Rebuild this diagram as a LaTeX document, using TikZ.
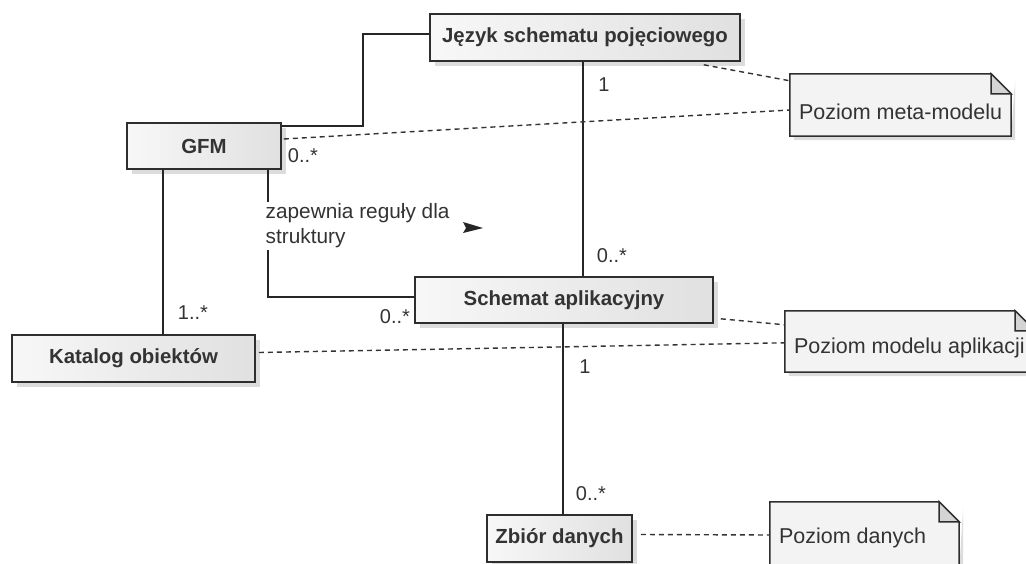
\documentclass[tikz,border=0pt]{standalone}
\usepackage{fontspec}
\setmainfont{Liberation Sans}
\usetikzlibrary{shadows,calc}
\definecolor{txt}{HTML}{333333}
\definecolor{edge}{HTML}{2E2E2E}
\definecolor{notefill}{HTML}{F3F3F3}
\definecolor{foldfill}{HTML}{D4D4D4}
\definecolor{shad}{HTML}{DCDCDC}
\newcommand\drawnote[1]{%
  \fill[shad] ($(#1.north east)+(4,5)$) -- ($(#1.south east)+(4,4)$) -- ($(#1.south west)+(4,4)$) -- ($(#1.south west)+(4,0)$) -- ($(#1.south east)+(0,0)$) -- cycle;
  \draw[noteline, fill=notefill] (#1.north west) -- ($(#1.north east)+(-20,0)$) -- ($(#1.north east)+(0,20)$) -- (#1.south east) -- (#1.south west) -- cycle;
  \draw[noteline, fill=foldfill] ($(#1.north east)+(-20,0)$) -- ($(#1.north east)+(-20,20)$) -- ($(#1.north east)+(0,20)$) -- cycle;
}
\begin{document}
\begin{tikzpicture}[x=1pt,y=-1pt,
  cls/.style={draw=edge, line width=1.6pt, left color=white!94!gray, right color=gray!24,
    minimum height=46pt, inner sep=0pt, text=txt,
    font=\fontsize{20.4}{23}\selectfont\bfseries,
    drop shadow={shadow xshift=5pt, shadow yshift=-5pt, fill=shad, opacity=1}},
  notebody/.style={draw=none, inner sep=0pt},
  noteline/.style={draw=edge, line width=1.5pt},
  notetext/.style={text=txt, font=\fontsize{21.5}{25}\selectfont, inner sep=0pt, anchor=west},
  conn/.style={draw=black!85, line width=1.6pt},
  dashln/.style={draw=black!80, line width=1.4pt, dash pattern=on 5pt off 4pt},
  mult/.style={text=txt, font=\fontsize{20}{24}\selectfont, inner sep=0pt}
]
\useasboundingbox (0,0) rectangle (1026,563);
\clip (0,0) rectangle (1026,563);

% notes
\node[notebody, minimum width=221pt, minimum height=62pt] (meta) at (900.5,105) {};
\node[notebody, minimum width=250pt, minimum height=61pt] (modapl) at (910,341.5) {};
\node[notebody, minimum width=189pt, minimum height=68pt] (dane) at (864.5,536) {};
\drawnote{meta}
\drawnote{modapl}
\drawnote{dane}
\node[notetext] (tmeta) at ($(meta.west)+(9,7)$) {Poziom meta-modelu};
\node[notetext] (tmodapl) at ($(modapl.west)+(9,6)$) {Poziom modelu aplikacji};
\node[notetext] (tdane) at ($(dane.west)+(9,2)$) {Poziom danych};

% classes
\node[cls, minimum width=310pt, minimum height=47pt] (jez) at (585,37.5) {Język schematu pojęciowego};
\node[cls, minimum width=154pt] (gfm) at (204,146) {GFM};
\node[cls, minimum width=298pt] (schem) at (564,300) {Schemat aplikacyjny};
\node[cls, minimum width=243pt, minimum height=47pt] (kat) at (133.5,358.5) {Katalog obiektów};
\node[cls, minimum width=145pt, minimum height=47pt] (zb) at (559.5,538.5) {Zbiór danych};

% associations
\draw[conn] ([yshift=-4pt]gfm.north east) -- ++(81,0) |- ([yshift=3.5pt]jez.west);
\draw[conn] ([xshift=-2pt]jez.south) -- ([xshift=19pt]schem.north);
\draw[conn] ([xshift=-41pt]gfm.south) -- ([xshift=-41pt]gfm.south |- kat.north);
\draw[conn] ([xshift=64pt]gfm.south) |- ([yshift=3pt]schem.west);
\draw[conn] ([xshift=-1pt]schem.south) -- ([xshift=3.5pt]zb.north);

% note links
\draw[dashln] ($(jez.south east)+(-37,3)$) -- ($(meta.north west)+(0,7)$);
\draw[dashln] ($(gfm.east)+(2,-7)$) -- ($(meta.west)+(0,5)$);
\draw[dashln] ($(schem.south east)+(7,-5)$) -- ($(modapl.north west)+(0,14)$);
\draw[dashln] ($(kat.east)+(3,-6)$) -- ($(modapl.north west)+(0,32)$);
\draw[dashln] ($(zb.east)+(8,-4)$) -- ($(dane.west)+(0,-1)$);

% role label with direction arrow
\node[fill=white, inner sep=1.5pt, align=left, text=txt, font=\fontsize{20.8}{25}\selectfont, anchor=west] (rule) at (264,226) {zapewnia reguły dla\\struktury};
\coordinate (arr) at (463,228);
\fill[black!85] (arr) ++(0,-6) -- ++(20,6) -- ++(-20,5) -- ++(3,-5) -- cycle;

% multiplicities
\node[mult] (m1) at (604,85) {1};
\node[mult] (m2) at (612,256) {0..*};
\node[mult] (m3) at (303,156) {0..*};
\node[mult] (m4) at (193,313) {1..*};
\node[mult] (m5) at (395,317) {0..*};
\node[mult] (m6) at (585,367) {1};
\node[mult] (m7) at (591,494) {0..*};
\end{tikzpicture}
\end{document}
